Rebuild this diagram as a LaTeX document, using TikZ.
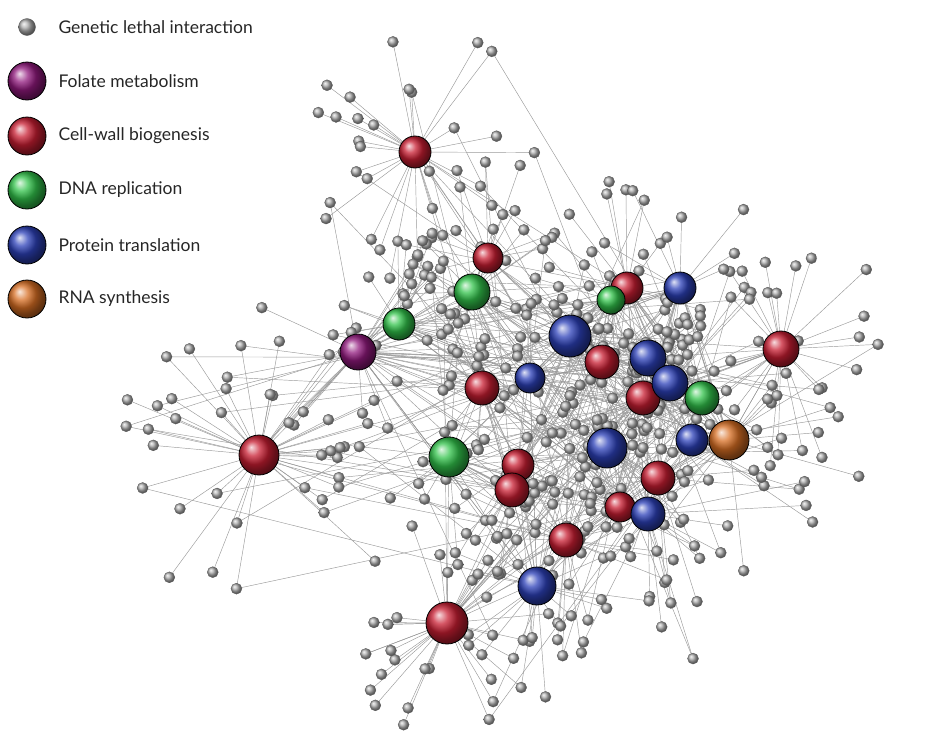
\documentclass[tikz,border=0pt]{standalone}
\usepackage{fontspec}
\setmainfont{Lato}
\definecolor{redH}{RGB}{200,30,50}
\definecolor{greenH}{RGB}{50,195,75}
\definecolor{blueH}{RGB}{45,65,185}
\definecolor{purpleH}{RGB}{145,25,125}
\definecolor{orangeH}{RGB}{215,110,35}
\definecolor{grayH}{RGB}{175,175,175}
\begin{document}
\begin{tikzpicture}[x=1pt,y=-1pt,
  sat/.style={circle,inner sep=0pt,minimum size=11pt,shading=ball,ball color=grayH,draw=gray!70!black,line width=0.3pt},
  hub/.style={circle,inner sep=0pt,draw=black,line width=0.8pt,shading=ball},
  edge/.style={gray!80,line width=0.45pt},
  lab/.style={anchor=west,font=\fontsize{17.5}{20}\selectfont,text=black!85}]
\useasboundingbox (0,0) rectangle (926,753);
\pgfmathsetseed{11}
\def\hubs{1/415/152/16/redH/28/130, 2/488/258/15/redH/18/110, 3/259/455/20/redH/40/160,
 4/482/388/17/redH/12/90, 5/602/362/17/redH/14/100, 6/627/288/16/redH/16/110,
 7/643/398/17/redH/12/110, 8/518/465/16/redH/10/90, 9/512/490/17/redH/12/100,
 10/658/478/17/redH/18/150, 11/620/507/15/redH/12/120, 12/566/540/17/redH/20/120,
 13/447/623/21/redH/30/130, 14/781/349/18/redH/22/120, 15/472/292/18/greenH/18/110,
 16/399/324/16/greenH/14/110, 17/449/457/20/greenH/14/110, 18/611/300/14/greenH/10/100,
 19/702/398/17/greenH/16/160, 20/570/336/21/blueH/16/110, 21/680/288/16/blueH/16/110,
 22/648/358/18/blueH/14/120, 23/530/378/15/blueH/10/90, 24/670/383/18/blueH/12/130,
 25/607/448/20/blueH/14/110, 26/692/440/16/blueH/12/150, 27/648/514/17/blueH/20/160,
 28/537/586/19/blueH/18/120, 29/358/352/18/purpleH/26/160, 30/729/440/20/orangeH/18/160}
\foreach \k/\x/\y/\r/\c/\n/\s in \hubs { \coordinate (h\k) at (\x,\y); }
% hub-hub links
\foreach \k/\x/\y/\r/\c/\n/\s in \hubs {
  \foreach \j in {1,...,4}{
    \pgfmathtruncatemacro\t{random(4,30)}
    \draw[edge] (h\k) -- (h\t);
  }
}
% satellite positions and edges
\foreach \k/\x/\y/\r/\c/\n/\s in \hubs {
  \foreach \i in {1,...,\n}{
    \pgfmathsetmacro\ang{rnd*360}
    \pgfmathsetmacro\dd{\s*(0.35+0.65*rnd)}
    \pgfmathsetmacro\px{max(95,min(905,\x+\dd*cos(\ang)))}
    \pgfmathsetmacro\py{max(15,min(735,\y+\dd*sin(\ang)))}
    \coordinate (g\k-\i) at (\px,\py);
    \draw[edge] (h\k) -- (g\k-\i);
    \pgfmathsetmacro\q{rnd}
    \pgfmathtruncatemacro\t{random(4,30)}
    \ifdim\q pt<0.35pt
      \draw[edge] (h\t) -- (g\k-\i);
    \fi
  }
}
% satellite nodes
\foreach \k/\x/\y/\r/\c/\n/\s in \hubs {
  \foreach \i in {1,...,\n}{
    \node[sat] (s\k-\i) at (g\k-\i) {};
  }
}
% hubs
\foreach \k/\x/\y/\r/\c/\n/\s in \hubs {
  \node[hub,minimum size=2*\r pt,ball color=\c] (H\k) at (h\k) {};
}
% legend
\node[sat,minimum size=17pt] (L0) at (27,27) {};
\node[lab] (T0) at (55,27) {Genetic lethal interaction};
\node[hub,minimum size=38pt,ball color=purpleH] (L1) at (27,81) {};
\node[lab] (T1) at (55,81) {Folate metabolism};
\node[hub,minimum size=38pt,ball color=redH] (L2) at (27,136) {};
\node[lab] (T2) at (55,136) {Cell-wall biogenesis};
\node[hub,minimum size=38pt,ball color=greenH] (L3) at (27,190) {};
\node[lab] (T3) at (55,190) {DNA replication};
\node[hub,minimum size=38pt,ball color=blueH] (L4) at (27,245) {};
\node[lab] (T4) at (55,245) {Protein translation};
\node[hub,minimum size=38pt,ball color=orangeH] (L5) at (27,299) {};
\node[lab] (T5) at (55,299) {RNA synthesis};
\end{tikzpicture}
\end{document}
